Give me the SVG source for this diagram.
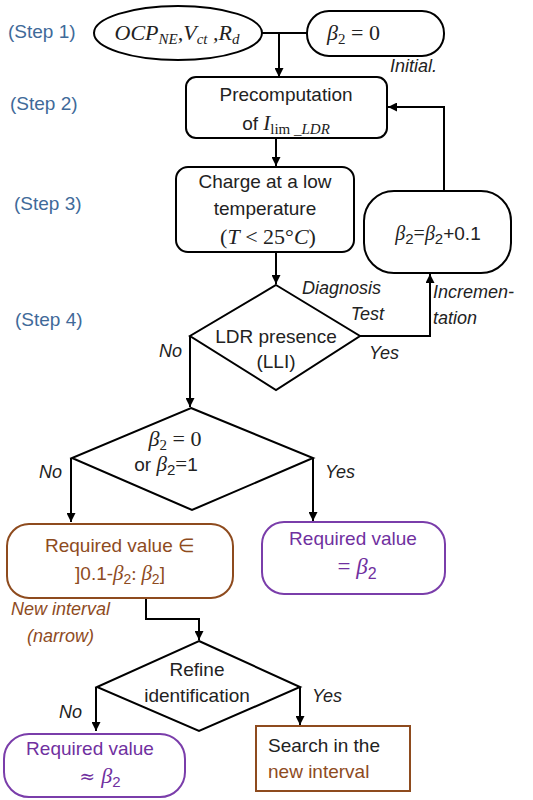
<svg xmlns="http://www.w3.org/2000/svg" width="533" height="800" viewBox="0 0 533 800">
<style>
.s{font-family:"Liberation Sans",Arial,sans-serif;font-size:19px;fill:#222}
.step{font-family:"Liberation Sans",Arial,sans-serif;font-size:19px;fill:#3F6A99}
.m{font-family:"Liberation Serif","DejaVu Serif",serif;font-style:italic}
.lab{font-family:"Liberation Sans",Arial,sans-serif;font-size:18px;font-style:italic;fill:#222}
.node{fill:#fff;stroke:#000;stroke-width:2}
.br{fill:#fff;stroke:#8E4B1E;stroke-width:2}
.pu{fill:#fff;stroke:#7A3DAA;stroke-width:2}
.tbr{fill:#8E4B1E}
.tpu{fill:#7030A0}
.c{fill:none;stroke:#000;stroke-width:2}
</style>
<defs>
<marker id="ah" viewBox="0 0 10 10" refX="10" refY="5" markerWidth="9" markerHeight="9" markerUnits="userSpaceOnUse" orient="auto">
<path d="M0,0 L10,5 L0,10 z" fill="#000"/>
</marker>
</defs>

<g id="steps">
<text class="step" x="8" y="38">(Step 1)</text>
<text class="step" x="10" y="110">(Step 2)</text>
<text class="step" x="14" y="210">(Step 3)</text>
<text class="step" x="15" y="326">(Step 4)</text>
</g>

<g id="connectors">
<path class="c" d="M262,33 H307"/>
<path class="c" d="M279,33 V77" marker-end="url(#ah)"/>
<path class="c" d="M444,190 V107 H388" marker-end="url(#ah)"/>
<path class="c" d="M276,138 V166" marker-end="url(#ah)"/>
<path class="c" d="M276,252 V284" marker-end="url(#ah)"/>
<path class="c" d="M360,336 H430 V274" marker-end="url(#ah)"/>
<path class="c" d="M190,336 V407" marker-end="url(#ah)"/>
<path class="c" d="M71,458 V522" marker-end="url(#ah)"/>
<path class="c" d="M313,458 V521" marker-end="url(#ah)"/>
<path class="c" d="M146,598 V619 H199 V640" marker-end="url(#ah)"/>
<path class="c" d="M96,687 V731" marker-end="url(#ah)"/>
<path class="c" d="M300,687 V725" marker-end="url(#ah)"/>
</g>

<g id="inputs">
<ellipse class="node" cx="178" cy="33" rx="84" ry="27"/>
<text class="m" x="177" y="40" text-anchor="middle" font-size="22" fill="#222">OCP<tspan font-size="15" dy="4">NE</tspan><tspan dy="-4">,V</tspan><tspan font-size="15" dy="4">ct</tspan><tspan dy="-4"> ,R</tspan><tspan font-size="15" dy="4">d</tspan></text>
</g>

<g id="init">
<rect class="node" x="307" y="11" width="137" height="45" rx="22"/>
<text class="m" x="327" y="40" font-size="22" fill="#222">β<tspan font-size="15" dy="4" font-style="normal">2</tspan><tspan dy="-4" font-style="normal"> = 0</tspan></text>
<text class="lab" x="390" y="72">Initial.</text>
</g>

<g id="precomp">
<rect class="node" x="186" y="77" width="201" height="61" rx="10"/>
<text class="s" x="286" y="101" text-anchor="middle">Precomputation</text>
<text class="s" x="286" y="130" text-anchor="middle">of <tspan class="m" font-size="21">I</tspan><tspan font-family="Liberation Serif,serif" font-size="15" dy="4">lim</tspan><tspan class="m" font-size="15"> _LDR</tspan></text>
</g>

<g id="charge">
<rect class="node" x="176" y="167" width="178" height="85" rx="12"/>
<text class="s" x="265" y="188" text-anchor="middle">Charge at a low</text>
<text class="s" x="265" y="215" text-anchor="middle">temperature</text>
<text x="268" y="244" text-anchor="middle" font-family="Liberation Serif,serif" font-size="22" fill="#222">(<tspan font-style="italic">T</tspan> &lt; 25°<tspan font-style="italic">C</tspan>)</text>
</g>

<g id="increment">
<rect class="node" x="364" y="191" width="147" height="82" rx="30"/>
<text x="438" y="240" text-anchor="middle" font-size="20" fill="#222"><tspan class="m">β</tspan><tspan font-family="Liberation Sans,sans-serif" font-size="15" dy="4">2</tspan><tspan font-family="Liberation Serif,serif" dy="-4">=</tspan><tspan class="m">β</tspan><tspan font-family="Liberation Sans,sans-serif" font-size="15" dy="4">2</tspan><tspan font-family="Liberation Sans,sans-serif" font-size="19" dy="-4">+0.1</tspan></text>
<text class="lab" x="433" y="298">Incremen-</text>
<text class="lab" x="433" y="324">tation</text>
</g>

<g id="diag">
<polygon class="node" points="276,285 360,336 276,390 190,336"/>
<text class="s" x="276" y="343" text-anchor="middle">LDR presence</text>
<text class="s" x="276" y="368" text-anchor="middle">(LLI)</text>
<text class="lab" x="302" y="294">Diagnosis</text>
<text class="lab" x="384" y="320" text-anchor="end">Test</text>
<text class="lab" x="369" y="359">Yes</text>
<text class="lab" x="159" y="357">No</text>
</g>

<g id="check">
<polygon class="node" points="191,408 313,458 192,510 72,458"/>
<text x="175" y="446" text-anchor="middle" font-size="22" fill="#222"><tspan class="m">β</tspan><tspan font-family="Liberation Serif,serif" font-size="15" dy="4">2</tspan><tspan font-family="Liberation Serif,serif" dy="-4"> = 0</tspan></text>
<text x="166" y="471" text-anchor="middle" fill="#222"><tspan class="s">or </tspan><tspan class="m" font-size="21">β</tspan><tspan font-family="Liberation Sans,sans-serif" font-size="15" dy="4">2</tspan><tspan font-family="Liberation Serif,serif" font-size="21" dy="-4">=</tspan><tspan class="s">1</tspan></text>
<text class="lab" x="39" y="478">No</text>
<text class="lab" x="325" y="478">Yes</text>
</g>

<g id="interval">
<rect class="br" x="7" y="524" width="226" height="74" rx="22"/>
<text class="s tbr" x="120" y="552" text-anchor="middle">Required value ∈</text>
<text x="120" y="580" text-anchor="middle" class="tbr" font-size="19"><tspan font-family="Liberation Sans,sans-serif">]0.1-</tspan><tspan class="m" font-size="21">β</tspan><tspan font-family="Liberation Sans,sans-serif" font-size="14" dy="4">2</tspan><tspan font-family="Liberation Serif,serif" dy="-4">: </tspan><tspan class="m" font-size="21">β</tspan><tspan font-family="Liberation Sans,sans-serif" font-size="14" dy="4">2</tspan><tspan font-family="Liberation Sans,sans-serif" dy="-4">]</tspan></text>
<text class="lab tbr" x="11" y="615" font-size="20">New interval</text>
<text class="lab tbr" x="27" y="642" font-size="20">(narrow)</text>
</g>

<g id="exact">
<rect class="pu" x="262" y="522" width="183" height="72" rx="22"/>
<text class="s tpu" x="353" y="545" text-anchor="middle">Required value</text>
<text x="357" y="574" text-anchor="middle" class="tpu" font-size="23"><tspan font-family="Liberation Serif,serif">= </tspan><tspan class="m">β</tspan><tspan font-family="Liberation Sans,sans-serif" font-size="16" dy="5">2</tspan></text>
</g>

<g id="refine">
<polygon class="node" points="199,641 300,687 199,731 97,687"/>
<text class="s" x="197" y="676" text-anchor="middle">Refine</text>
<text class="s" x="197" y="702" text-anchor="middle">identification</text>
<text class="lab" x="59" y="718">No</text>
<text class="lab" x="312" y="702">Yes</text>
</g>

<g id="approx">
<rect class="pu" x="4" y="734" width="181" height="63" rx="25"/>
<text class="s tpu" x="90" y="755" text-anchor="middle">Required value</text>
<text x="100" y="783" text-anchor="middle" class="tpu" font-size="22"><tspan font-family="DejaVu Serif,serif" font-size="19">≈ </tspan><tspan class="m">β</tspan><tspan font-family="Liberation Sans,sans-serif" font-size="15" dy="4">2</tspan></text>
</g>

<g id="search">
<rect class="br" x="256" y="726" width="154" height="65"/>
<text class="s" x="268" y="752">Search in the</text>
<text class="s tbr" x="268" y="778">new interval</text>
</g>
</svg>
